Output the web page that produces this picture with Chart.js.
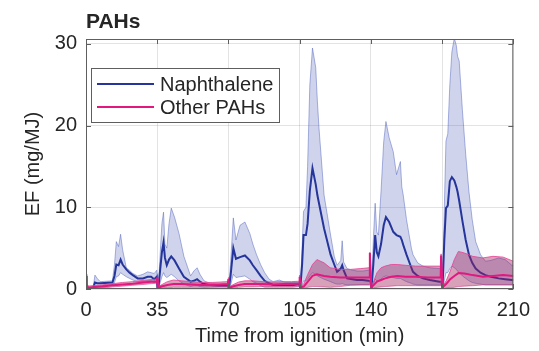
<!DOCTYPE html>
<html>
<head>
<meta charset="utf-8">
<script src="https://cdn.jsdelivr.net/npm/chart.js@4.4.1/dist/chart.umd.min.js"></script>
<style>
  html, body { margin: 0; padding: 0; background: #fff; }
  #wrap { width: 539px; height: 351px; position: relative; }
</style>
</head>
<body>
<div id="wrap"><canvas id="pahChart"></canvas></div>
<script>
// -----------------------
// Data
// -----------------------
const xTickValues = [0, 35, 70, 105, 140, 175, 210];
const yTickValues = [0, 10, 20, 30];

// Naphthalene: mean and shaded range
const napTime = [
  0, 3.5, 4.4, 5.5, 7, 13, 14, 14.9, 16, 17, 18, 19.8, 21.4, 23, 25.4, 28, 30.3, 32, 33.5, 34.8,
  35.1, 35.6, 36.5, 37.3, 38.1, 38.8, 39.7, 40.8, 41.9, 43.5, 45.7, 48.1, 51.4, 53, 54.6, 56, 58, 61.1, 65, 69.8,
  70.2, 71, 72.4, 73.7, 75.7, 78.1, 80.5, 82, 83.8, 85.8, 87.8, 90, 92, 95, 98, 102, 104.8,
  105.3, 106.2, 106.9, 108.1, 108.9, 110, 111.3, 112.9, 113.7, 114.5, 117, 120.2, 122, 123.4, 125.2, 125.9, 126.6, 128.3, 131, 133.2, 136, 138.8, 139.7,
  140.3, 141.2, 142.1, 142.9, 143.7, 145, 146.3, 147.4, 149, 151, 152.6, 154.5, 155.2, 155.9, 157.5, 159.9, 160.7, 163, 165.6, 169, 173.7, 174.7,
  175.2, 176.1, 176.9, 177.8, 178.8, 179.8, 181.0, 182.0, 182.6, 183.4, 185.0, 186.6, 188.2, 189.8, 191.5, 193.9, 196.3, 199, 202.8, 206, 209.3, 210
];
const napMean = [
  0.05, 0.1, 0.8, 0.7, 0.7, 0.8, 1.6, 3.0, 2.9, 3.6, 3.0, 2.4, 2.0, 1.7, 1.3, 1.3, 1.5, 1.5, 1.2, 1.5,
  0.1, 0.2, 2.5, 4.5, 5.7, 3.8, 2.9, 3.6, 4.0, 3.5, 2.5, 1.5, 0.9, 1.0, 1.2, 0.9, 0.6, 0.5, 0.4, 0.4,
  0.1, 1.5, 5.0, 3.7, 3.9, 4.1, 3.5, 2.9, 2.3, 1.6, 1.0, 0.7, 0.5, 0.5, 0.5, 0.5, 0.6,
  0.1, 3.0, 6.6, 6.6, 8.0, 12.0, 14.8, 12.8, 11.5, 10.5, 7.4, 4.2, 3.0, 2.1, 2.5, 2.9, 2.3, 1.3, 1.2, 1.1, 1.1, 1.0, 1.0,
  0.1, 3.0, 6.6, 4.5, 4.0, 5.5, 7.8, 8.8, 8.2, 7.0, 6.6, 6.4, 6.0, 5.4, 4.2, 2.6, 2.1, 1.6, 1.3, 1.1, 0.9, 0.9,
  0.1, 6.0, 9.9, 10.2, 13.2, 13.7, 13.3, 12.5, 11.9, 10.8, 8.3, 6.0, 4.2, 3.2, 2.5, 2.0, 1.7, 1.5, 1.3, 1.2, 1.1, 1.1
];
const napUpper = [
  0.1, 0.2, 1.7, 1.3, 0.9, 1.0, 3.0, 5.8, 5.2, 6.7, 4.8, 2.6, 2.3, 1.9, 1.6, 1.8, 2.1, 2.0, 1.9, 2.3,
  0.2, 0.5, 4.5, 8.0, 9.4, 5.5, 5.0, 8.0, 9.9, 8.8, 6.8, 4.0, 1.6, 2.2, 2.6, 1.8, 1.0, 0.7, 0.6, 0.6,
  0.2, 3.0, 8.7, 6.0, 7.8, 8.2, 6.8, 5.5, 4.2, 3.0, 2.0, 1.2, 0.9, 1.1, 0.8, 0.8, 0.8,
  0.2, 5.0, 9.5, 10.0, 15.0, 25.0, 29.5, 27.1, 23.0, 19.7, 11.5, 6.6, 4.0, 2.9, 3.5, 5.9, 3.3, 2.5, 2.3, 2.2, 2.2, 2.3, 2.3,
  0.2, 6.0, 10.5, 7.0, 6.6, 12.0, 18.0, 20.5, 18.5, 16.8, 14.0, 15.6, 12.5, 11.5, 8.5, 5.0, 4.2, 3.2, 2.8, 2.6, 2.5, 2.5,
  0.2, 10.0, 18.1, 19.0, 25.0, 29.0, 30.7, 29.8, 28.5, 27.9, 21.8, 16.5, 11.9, 8.5, 5.8, 4.2, 3.4, 3.5, 3.8, 3.6, 2.9, 2.9
];
const napLower = [
  0.0, 0.0, 0.3, 0.3, 0.4, 0.5, 0.8, 1.5, 1.6, 2.0, 1.8, 1.5, 1.3, 1.1, 0.9, 0.9, 1.0, 1.0, 0.8, 0.9,
  0.0, 0.0, 0.8, 1.5, 2.0, 1.6, 1.4, 1.6, 1.8, 1.5, 1.0, 0.6, 0.3, 0.4, 0.4, 0.3, 0.2, 0.2, 0.2, 0.2,
  0.0, 0.4, 1.8, 1.4, 1.5, 1.6, 1.2, 0.9, 0.7, 0.4, 0.2, 0.2, 0.2, 0.2, 0.2, 0.2, 0.3,
  0.0, 0.5, 1.0, 1.0, 1.2, 1.6, 2.0, 1.8, 1.6, 1.5, 1.2, 0.9, 0.7, 0.6, 0.6, 0.7, 0.6, 0.5, 0.5, 0.5, 0.5, 0.5, 0.5,
  0.0, 0.5, 1.2, 1.0, 1.0, 1.2, 1.5, 1.6, 1.5, 1.4, 1.3, 1.3, 1.2, 1.1, 0.9, 0.7, 0.6, 0.5, 0.5, 0.5, 0.5, 0.5,
  0.0, 1.0, 2.0, 2.0, 2.5, 2.8, 2.6, 2.4, 2.2, 2.0, 1.6, 1.3, 1.0, 0.8, 0.7, 0.6, 0.5, 0.5, 0.5, 0.5, 0.5, 0.5
];

// Other PAHs: mean and shaded range
const othTime = [
  0, 0.4, 1, 3, 8, 13, 18, 23, 28, 32, 34.7,
  35, 35.3, 37, 40, 43, 47, 52, 57, 62, 66, 69.7,
  70, 70.3, 72, 75, 78, 82, 87, 92, 97, 101, 104.7,
  105, 105.3, 107, 109, 111.3, 113.5, 117, 120, 125, 130, 135, 139.2,
  139.5, 140.2, 141.5, 143, 145, 147, 150, 153, 157, 162, 168, 174.3,
  174.5, 175.2, 177, 179, 181, 183, 186, 190, 195, 200, 205, 210
];
const othMean = [
  1.6, 0.5, 0.15, 0.2, 0.3, 0.45, 0.55, 0.65, 0.8, 0.9, 0.9,
  1.2, 0.1, 0.3, 0.5, 0.6, 0.6, 0.55, 0.5, 0.5, 0.55, 0.6,
  1.2, 0.1, 0.3, 0.5, 0.6, 0.6, 0.6, 0.55, 0.6, 0.6, 0.65,
  1.5, 0.2, 0.3, 0.9, 1.6, 1.8, 1.6, 1.5, 1.4, 1.4, 1.4, 1.4,
  4.4, 0.2, 0.5, 0.9, 1.1, 1.3, 1.5, 1.6, 1.5, 1.5, 1.4, 1.4,
  4.1, 0.2, 0.6, 1.2, 1.6, 1.95, 1.9, 1.7, 1.5, 1.6, 1.7, 1.6
];
const othUpper = [
  1.8, 0.8, 0.35, 0.4, 0.5, 0.65, 0.8, 0.9, 1.05, 1.15, 1.2,
  1.4, 0.2, 0.5, 0.9, 1.1, 1.0, 0.9, 0.8, 0.8, 0.85, 0.9,
  1.4, 0.2, 0.5, 0.85, 1.0, 1.0, 0.9, 0.85, 0.9, 0.9, 0.95,
  1.7, 0.3, 0.6, 1.8, 3.0, 3.6, 3.2, 2.6, 2.4, 2.4, 2.5, 2.6,
  4.5, 0.3, 1.0, 2.0, 2.6, 2.8, 3.0, 3.0, 2.9, 2.8, 2.8, 2.8,
  4.3, 0.3, 1.0, 2.2, 3.6, 4.6, 4.4, 4.0, 3.8, 4.0, 3.9, 3.4
];
const othLower = [
  1.3, 0.3, 0.0, 0.05, 0.1, 0.25, 0.35, 0.45, 0.55, 0.65, 0.7,
  0.9, 0.0, 0.1, 0.15, 0.2, 0.2, 0.2, 0.2, 0.25, 0.3, 0.3,
  0.9, 0.0, 0.1, 0.2, 0.25, 0.25, 0.3, 0.3, 0.3, 0.3, 0.35,
  1.2, 0.0, 0.05, 0.2, 0.3, 0.3, 0.25, 0.2, 0.3, 0.45, 0.5, 0.5,
  4.2, 0.0, 0.1, 0.2, 0.25, 0.3, 0.35, 0.4, 0.4, 0.4, 0.4, 0.4,
  3.9, 0.0, 0.1, 0.15, 0.2, 0.3, 0.35, 0.4, 0.5, 0.5, 0.5, 0.5
];

// -----------------------
// Styles
// -----------------------
const FONT = "'Liberation Sans', Arial, Helvetica, sans-serif";
const TEXT = "#262626";
const NAP_LINE = "#25359b";
const OTH_LINE = "#e2187f";
const legendItems = [
  { label: "Naphthalene", color: NAP_LINE },
  { label: "Other PAHs", color: OTH_LINE }
];

const toXY = (xs, ys) => xs.map((x, i) => ({ x: x, y: ys[i] }));

function lineSet(data, color, width, order, fill, bg) {
  return {
    data: data, borderColor: color, borderWidth: width, backgroundColor: bg || "transparent",
    fill: fill || false, pointRadius: 0, tension: 0, order: order
  };
}

// Frame, inward ticks, title and legend (MATLAB-like)
const decorations = {
  id: "decorations",
  afterDraw(chart) {
    const { ctx, chartArea: a, scales: { x, y } } = chart;
    ctx.save();
    ctx.strokeStyle = "#5e5e5e";
    ctx.lineWidth = 1;
    ctx.strokeRect(a.left + 0.5, a.top + 0.5, a.right - a.left - 1, a.bottom - a.top - 1);
    ctx.beginPath();
    xTickValues.forEach(v => {
      const px = Math.round(x.getPixelForValue(v)) + 0.5;
      ctx.moveTo(px, a.bottom); ctx.lineTo(px, a.bottom - 5);
      ctx.moveTo(px, a.top); ctx.lineTo(px, a.top + 5);
    });
    yTickValues.forEach(v => {
      const py = Math.round(y.getPixelForValue(v)) + 0.5;
      ctx.moveTo(a.left, py); ctx.lineTo(a.left + 5, py);
      ctx.moveTo(a.right, py); ctx.lineTo(a.right - 5, py);
    });
    ctx.stroke();

    // title
    ctx.fillStyle = TEXT;
    ctx.font = "bold 21px " + FONT;
    ctx.textBaseline = "alphabetic";
    ctx.textAlign = "left";
    ctx.fillText("PAHs", a.left, 28);

    // legend box
    const bx = a.left + 5, by = 68, bw = 188, bh = 54;
    ctx.fillStyle = "#fff";
    ctx.fillRect(bx, by, bw, bh);
    ctx.strokeStyle = "#5e5e5e";
    ctx.strokeRect(bx + 0.5, by + 0.5, bw, bh);
    ctx.font = "20px " + FONT;
    legendItems.forEach((item, i) => {
      const ly = 84 + i * 23;
      ctx.strokeStyle = item.color;
      ctx.lineWidth = 2;
      ctx.beginPath();
      ctx.moveTo(bx + 6, ly); ctx.lineTo(bx + 63, ly);
      ctx.stroke();
      ctx.fillStyle = TEXT;
      ctx.fillText(item.label, bx + 69, ly + 7);
    });
    ctx.restore();
  }
};

// -----------------------
// Chart
// -----------------------
const ctx = document.getElementById("pahChart").getContext("2d");
const pahChart = new Chart(ctx, {
  type: "line",
  data: {
    datasets: [
      lineSet(toXY(napTime, napUpper), "rgba(70,90,185,0.45)", 1, 4, "+1", "rgba(64,83,180,0.25)"),
      lineSet(toXY(napTime, napLower), "rgba(70,90,185,0.45)", 1, 4),
      lineSet(toXY(napTime, napMean), NAP_LINE, 2, 3),
      lineSet(toXY(othTime, othUpper), "rgba(232,70,150,0.85)", 1, 2, "+1", "rgba(160,30,90,0.42)"),
      lineSet(toXY(othTime, othLower), "rgba(232,70,150,0.6)", 1, 2),
      lineSet(toXY(othTime, othMean), OTH_LINE, 2, 1)
    ]
  },
  options: {
    responsive: true,
    maintainAspectRatio: false,
    animation: false,
    layout: { padding: { top: 39, right: 21, bottom: 0, left: 0 } },
    plugins: { legend: { display: false }, tooltip: { enabled: false } },
    scales: {
      x: {
        type: "linear", min: 0, max: 210,
        afterBuildTicks: s => { s.ticks = xTickValues.map(v => ({ value: v })); },
        afterFit: s => { s.height = 62; },
        grid: { color: "rgba(38,38,38,0.13)", drawTicks: false },
        border: { display: false },
        ticks: { color: TEXT, padding: 9, maxRotation: 0, font: { family: FONT, size: 20 } },
        title: { display: true, text: "Time from ignition (min)", color: TEXT, padding: { top: 0, bottom: 3 }, font: { family: FONT, size: 20 } }
      },
      y: {
        min: 0, max: 30.6,
        afterBuildTicks: s => { s.ticks = yTickValues.map(v => ({ value: v })); },
        afterFit: s => { s.width = 86; },
        grid: { color: "rgba(38,38,38,0.13)", drawTicks: false },
        border: { display: false },
        ticks: { color: TEXT, padding: 9, font: { family: FONT, size: 20 } },
        title: { display: true, text: "EF (mg/MJ)", color: TEXT, padding: { top: 21, bottom: 0 }, font: { family: FONT, size: 20 } }
      }
    }
  },
  plugins: [decorations]
});
</script>
</body>
</html>
